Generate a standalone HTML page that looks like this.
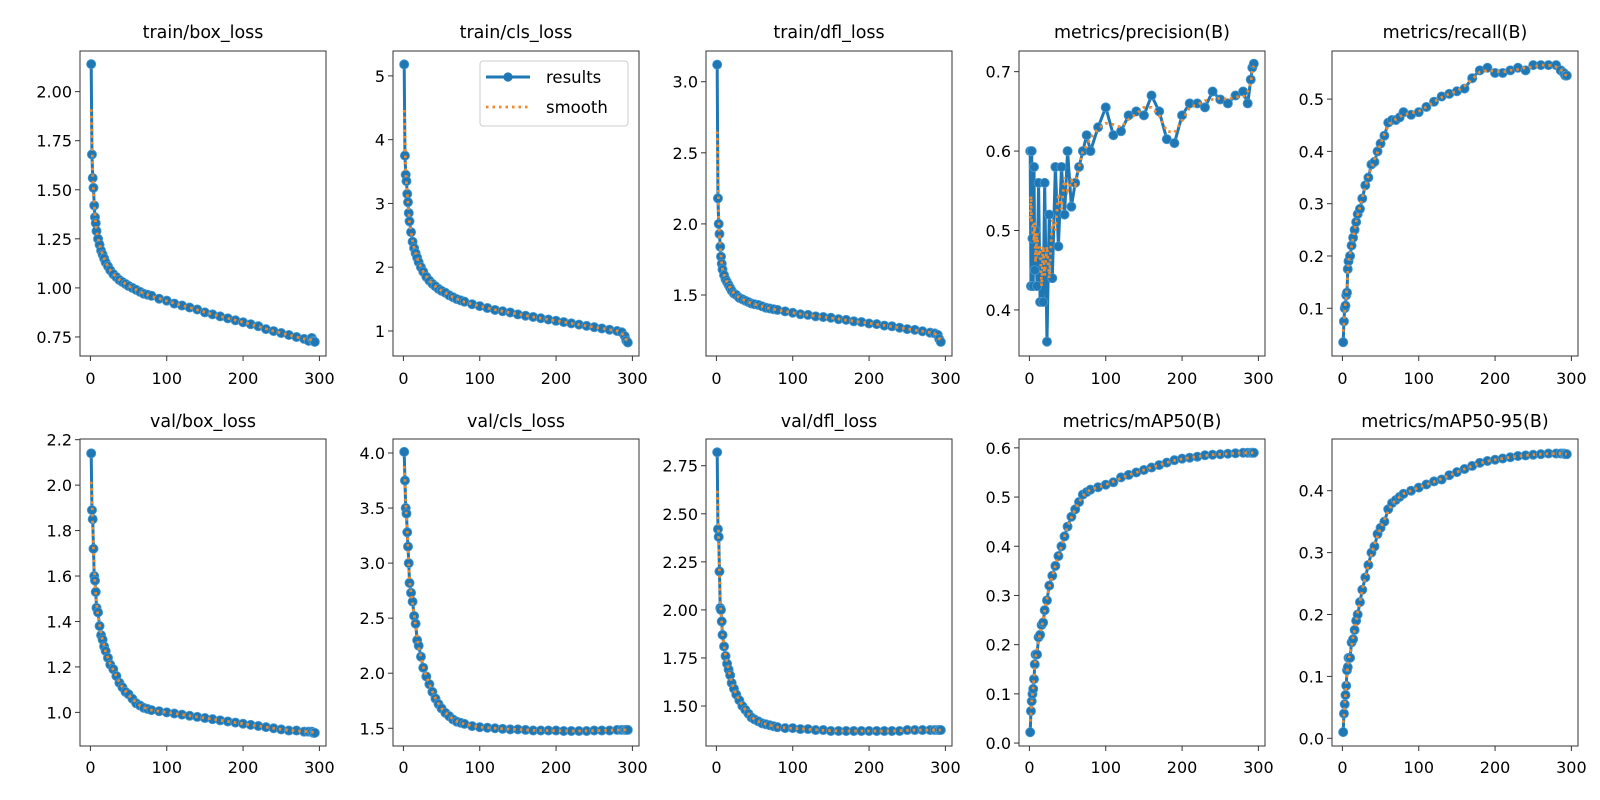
<!DOCTYPE html>
<html><head><meta charset="utf-8">
<style>
html,body{margin:0;padding:0;background:#fff;}
svg{display:block;font-family:"DejaVu Sans","Liberation Sans",sans-serif;}
</style></head>
<body>
<svg id="fig" width="1600" height="800" viewBox="0 0 1600 800" xmlns="http://www.w3.org/2000/svg"></svg>
<script>
const epochs = [1,2,3,4,5,6,7,8,10,12,14,16,18,20,23,26,30,34,38,42,46,50,55,60,65,70,75,80,90,100,110,120,130,140,150,160,170,180,190,200,210,220,230,240,250,260,270,280,286,290,292,294];
const trainBox = [2.14,1.68,1.56,1.51,1.42,1.36,1.33,1.29,1.25,1.22,1.19,1.17,1.15,1.13,1.11,1.09,1.07,1.055,1.04,1.03,1.02,1.01,1.0,0.99,0.98,0.97,0.965,0.96,0.945,0.935,0.92,0.91,0.90,0.89,0.875,0.865,0.855,0.845,0.835,0.825,0.815,0.805,0.79,0.78,0.77,0.76,0.75,0.74,0.73,0.745,0.73,0.725];
const trainCls = [5.18,3.75,3.45,3.35,3.15,3.02,2.85,2.72,2.55,2.4,2.3,2.22,2.15,2.08,2.0,1.93,1.85,1.79,1.74,1.7,1.66,1.63,1.6,1.56,1.53,1.5,1.48,1.46,1.42,1.39,1.36,1.33,1.31,1.29,1.26,1.24,1.22,1.2,1.18,1.16,1.14,1.12,1.1,1.08,1.06,1.04,1.02,1.0,0.98,0.92,0.85,0.82];
const trainDfl = [3.12,2.18,2.0,1.93,1.84,1.77,1.72,1.68,1.64,1.61,1.59,1.57,1.55,1.53,1.51,1.5,1.48,1.47,1.46,1.45,1.44,1.435,1.43,1.42,1.41,1.405,1.4,1.395,1.385,1.375,1.365,1.36,1.35,1.345,1.34,1.33,1.325,1.315,1.31,1.3,1.295,1.285,1.28,1.27,1.26,1.255,1.245,1.235,1.23,1.22,1.19,1.17];
const precision = [0.60,0.43,0.60,0.49,0.43,0.58,0.45,0.50,0.43,0.56,0.41,0.47,0.41,0.56,0.36,0.52,0.44,0.58,0.48,0.58,0.52,0.60,0.53,0.56,0.58,0.60,0.62,0.60,0.63,0.655,0.62,0.625,0.645,0.65,0.645,0.67,0.65,0.615,0.61,0.645,0.66,0.66,0.655,0.675,0.665,0.66,0.67,0.675,0.66,0.69,0.705,0.71];
const recall = [0.035,0.075,0.1,0.105,0.125,0.13,0.175,0.19,0.2,0.22,0.235,0.25,0.265,0.28,0.29,0.31,0.335,0.35,0.375,0.38,0.4,0.415,0.43,0.455,0.46,0.46,0.465,0.475,0.47,0.475,0.485,0.495,0.505,0.51,0.515,0.52,0.54,0.555,0.56,0.55,0.55,0.555,0.56,0.555,0.565,0.565,0.565,0.565,0.555,0.55,0.545,0.545];
const valBox = [2.14,1.89,1.85,1.72,1.6,1.58,1.53,1.46,1.44,1.38,1.34,1.32,1.29,1.27,1.24,1.21,1.19,1.16,1.13,1.11,1.09,1.08,1.06,1.04,1.03,1.02,1.015,1.01,1.005,1.0,0.995,0.99,0.985,0.98,0.975,0.97,0.965,0.96,0.955,0.95,0.945,0.94,0.935,0.93,0.925,0.92,0.92,0.915,0.915,0.915,0.91,0.91];
const valCls = [4.01,3.75,3.5,3.45,3.28,3.15,3.0,2.82,2.73,2.65,2.52,2.45,2.3,2.25,2.15,2.05,1.97,1.9,1.83,1.77,1.72,1.68,1.64,1.61,1.58,1.56,1.55,1.54,1.52,1.51,1.505,1.5,1.495,1.49,1.49,1.485,1.48,1.48,1.48,1.48,1.475,1.475,1.475,1.475,1.48,1.48,1.48,1.485,1.485,1.485,1.485,1.485];
const valDfl = [2.82,2.42,2.38,2.2,2.01,2.0,1.94,1.87,1.81,1.76,1.72,1.69,1.66,1.62,1.59,1.56,1.53,1.5,1.48,1.46,1.44,1.43,1.42,1.41,1.405,1.4,1.395,1.39,1.385,1.385,1.38,1.38,1.375,1.375,1.37,1.37,1.37,1.37,1.37,1.37,1.37,1.37,1.37,1.37,1.375,1.375,1.375,1.375,1.375,1.375,1.375,1.375];
const map50 = [0.022,0.065,0.085,0.1,0.11,0.13,0.16,0.18,0.18,0.215,0.22,0.24,0.245,0.27,0.29,0.32,0.34,0.36,0.38,0.4,0.42,0.44,0.46,0.475,0.49,0.505,0.51,0.515,0.52,0.525,0.53,0.54,0.545,0.55,0.555,0.56,0.565,0.57,0.575,0.578,0.58,0.582,0.585,0.586,0.587,0.588,0.589,0.59,0.59,0.59,0.59,0.59];
const map5095 = [0.01,0.04,0.055,0.07,0.085,0.11,0.115,0.13,0.13,0.155,0.16,0.175,0.19,0.2,0.22,0.24,0.26,0.28,0.3,0.31,0.33,0.34,0.35,0.37,0.38,0.385,0.39,0.395,0.4,0.405,0.41,0.415,0.418,0.425,0.43,0.435,0.44,0.445,0.448,0.45,0.452,0.454,0.456,0.457,0.458,0.459,0.46,0.46,0.46,0.46,0.459,0.459];
const titles = ["train/box_loss","train/cls_loss","train/dfl_loss","metrics/precision(B)","metrics/recall(B)","val/box_loss","val/cls_loss","val/dfl_loss","metrics/mAP50(B)","metrics/mAP50-95(B)"];
const xTicks = [0,100,200,300];
const yTicks = [
  ["0.75","1.00","1.25","1.50","1.75","2.00"],
  ["1","2","3","4","5"],
  ["1.5","2.0","2.5","3.0"],
  ["0.4","0.5","0.6","0.7"],
  ["0.1","0.2","0.3","0.4","0.5"],
  ["1.0","1.2","1.4","1.6","1.8","2.0","2.2"],
  ["1.5","2.0","2.5","3.0","3.5","4.0"],
  ["1.50","1.75","2.00","2.25","2.50","2.75"],
  ["0.0","0.1","0.2","0.3","0.4","0.5","0.6"],
  ["0.0","0.1","0.2","0.3","0.4"]
];
const yDomains = [[0.653,2.207],[0.608,5.39],[1.071,3.216],[0.342,0.726],[0.0087,0.592],[0.852,2.203],[1.339,4.127],[1.292,2.889],[-0.006,0.618],[-0.0124,0.4835]];
const seriesList = [trainBox,trainCls,trainDfl,precision,recall,valBox,valCls,valDfl,map50,map5095];
const xDomain = [-13.65,308.65];

const NS = "http://www.w3.org/2000/svg";
const svg = document.getElementById('fig');
function mk(tag, attrs, parent){
  const e = document.createElementNS(NS, tag);
  for (const k in attrs) e.setAttribute(k, attrs[k]);
  (parent||svg).appendChild(e);
  return e;
}
function smooth(v){
  const out=[];
  for(let i=0;i<v.length;i++){
    let s=0,c=0;
    for(let j=Math.max(0,i-1);j<=Math.min(v.length-1,i+1);j++){s+=v[j];c++;}
    out.push(s/c);
  }
  return out;
}
const lefts = [80,393,706,1019,1332];
const W = 246;
const rowTop = [51,439], rowBot = [356,746];
const titleY = [32,421], tickLabY = [383,772];

for (let p=0;p<10;p++){
  const r = Math.floor(p/5), c = p%5;
  const L = lefts[c], R = L+W, T = rowTop[r], B = rowBot[r];
  const g = mk('g',{});
  
  
  const xs = v => L + (v - xDomain[0])/(xDomain[1]-xDomain[0])*W;
  const ys = v => B - (v - yDomains[p][0])/(yDomains[p][1]-yDomains[p][0])*(B-T);
  const t = mk('text',{x:(L+R)/2,y:titleY[r]+6,'text-anchor':'middle','font-size':'17.5',fill:'#000'},g);
  t.textContent = titles[p];
  
  
  xTicks.forEach(v=>{
    const x = xs(v);
    mk('line',{x1:x,x2:x,y1:B,y2:B+5,stroke:'#333','stroke-width':1},g);
    const tl = mk('text',{x:x,y:tickLabY[r]+1,'text-anchor':'middle','font-size':'16',fill:'#000'},g);
    tl.textContent = v;
    
    
  });
  yTicks[p].forEach(s=>{
    const y = ys(parseFloat(s));
    mk('line',{x1:L-5,x2:L,y1:y,y2:y,stroke:'#333','stroke-width':1},g);
    const tl = mk('text',{x:L-8,y:y+6,'text-anchor':'end','font-size':'16',fill:'#000'},g);
    tl.textContent = s;
    
    
  });
  const data = seriesList[p];
  const pts = data.map((v,i)=>xs(epochs[i]).toFixed(2)+','+ys(v).toFixed(2)).join(' ');
  const line = mk('polyline',{points:pts,fill:'none',stroke:'#1f77b4','stroke-width':3,'stroke-linejoin':'round'},g);
  
  
  data.forEach((v,i)=>{
    const m = mk('circle',{cx:xs(epochs[i]),cy:ys(v),r:4.6,fill:'#1f77b4',stroke:'#4a9ad0','stroke-width':0.8},g);
    
    
  });
  const sm = smooth(data);
  const spts = sm.map((v,i)=>xs(epochs[i]).toFixed(2)+','+ys(v).toFixed(2)).join(' ');
  const sl = mk('polyline',{points:spts,fill:'none',stroke:'#f08a2c','stroke-width':2.8,'stroke-dasharray':'2.5,4'},g);
  
  
  const fr = mk('rect',{x:L,y:T,width:W,height:B-T,fill:'none',stroke:'#333','stroke-width':1},g);
  
  
}
const lg = mk('g',{});


mk('rect',{x:480,y:61,width:148,height:65,rx:3,fill:'#fff','fill-opacity':0.85,stroke:'#ccc','stroke-width':1},lg);
mk('line',{x1:486,x2:530,y1:77,y2:77,stroke:'#1f77b4','stroke-width':3},lg);
mk('circle',{cx:508,cy:77,r:4.6,fill:'#1f77b4'},lg);
const l1 = mk('text',{x:546,y:83,'font-size':'16.5',fill:'#000'},lg);
l1.textContent='results';


mk('line',{x1:486,x2:530,y1:107,y2:107,stroke:'#f08a2c','stroke-width':2.8,'stroke-dasharray':'2.5,4'},lg);
const l2 = mk('text',{x:546,y:113,'font-size':'16.5',fill:'#000'},lg);
l2.textContent='smooth';


</script>
</body></html>
